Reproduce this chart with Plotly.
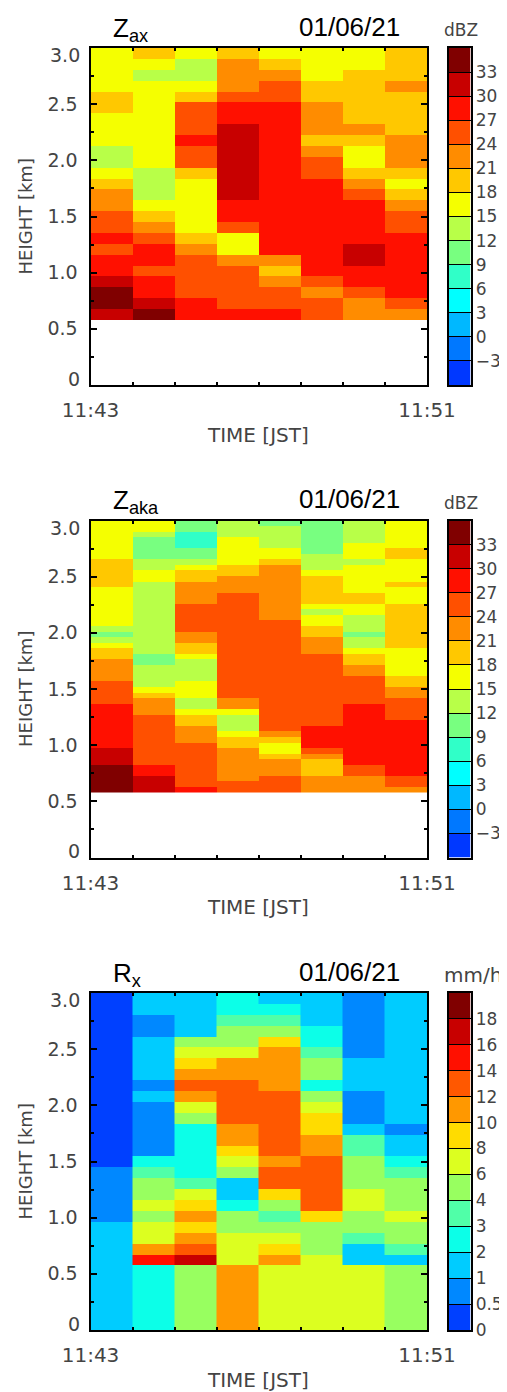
import numpy as np
import plotly.graph_objects as go

# ---------- data ----------
TIME_EDGES = [0, 1, 2, 3, 4, 5, 6, 7, 8]
DBZ_EDGES = [-6, -3, 0, 3, 6, 9, 12, 15, 18, 21, 24, 27, 30, 33, 36]
DBZ_COLORS = ["#0038ff", "#0078ff", "#00b8ff", "#00ffff", "#30ffc8", "#78ff80", "#b8ff48",
              "#f5ff00", "#ffc800", "#ff8c00", "#ff5000", "#ff1000", "#c80000", "#800000"]
RAIN_EDGES = [0, 0.5, 1, 2, 3, 4, 6, 8, 10, 12, 14, 16, 18, 20]
RAIN_COLORS = ["#0040ff", "#0088ff", "#00ccff", "#0cffe8", "#50ffa8", "#98ff60", "#dcff20",
               "#ffdc00", "#ff9800", "#ff5800", "#ff1000", "#c80000", "#800000"]
BOTTOM_KM = 0.575

# Z_ax: rows from 3.0 km downward, 8 time columns
ZAX = [
 [16,19,16,19,16,16,16,19],
 [16,16,13,22,19,16,16,19],
 [16,13,13,22,22,16,19,19],
 [16,16,16,22,25,19,19,22],
 [19,16,19,25,25,19,19,19],
 [19,16,25,28,28,22,19,19],
 [16,16,25,28,28,22,19,19],
 [16,16,25,31,28,22,22,19],
 [16,16,28,31,28,19,19,22],
 [13,16,25,31,28,22,16,22],
 [13,16,25,31,28,25,16,22],
 [16,13,19,31,28,25,19,19],
 [19,13,16,31,28,28,22,16],
 [22,13,16,31,28,28,25,19],
 [22,16,16,28,28,28,28,22],
 [25,19,16,28,28,28,28,25],
 [25,22,16,25,28,28,28,25],
 [28,25,19,16,28,28,28,28],
 [25,28,22,16,28,28,31,28],
 [28,28,25,22,22,28,31,28],
 [28,25,25,25,19,28,28,28],
 [31,28,25,25,22,25,28,28],
 [34,28,25,25,25,22,25,28],
 [34,31,28,25,25,25,22,25],
 [31,34,28,28,28,25,22,22],
]

# Z_aka: per time column, (value, number of range gates) from 3.0 km downward
ZAKA_C1 = [(16,7),(19,5),(16,7),(13,1),(10,1),(13,1),(16,1),(19,2),(22,4),(25,4),(28,8),(31,3),(34,5)]
ZAKA_C2 = [(16,2),(13,1),(10,4),(13,2),(16,2),(13,13),(10,2),(13,4),(16,1),(19,1),(22,3),(25,9),(28,2),(31,3)]
ZAKA_C3 = [(10,2),(7,3),(10,2),(13,1),(16,1),(19,2),(22,4),(25,5),(22,2),(19,2),(16,1),(13,4),(16,3),(13,2),(16,1),(19,2),(22,3),(25,8),(28,1)]
ZAKA_C4 = [(13,3),(16,5),(19,2),(22,3),(25,19),(22,2),(16,1),(13,3),(16,1),(19,2),(22,6),(25,2)]
ZAKA_C5 = [(10,1),(13,4),(16,2),(19,1),(22,10),(25,20),(22,1),(19,1),(16,2),(19,1),(22,3),(25,3)]
ZAKA_C6 = [(10,6),(13,3),(16,1),(19,5),(16,1),(13,1),(16,2),(19,2),(22,3),(25,13),(28,4),(25,1),(22,1),(19,3),(22,3)]
ZAKA_C7 = [(13,4),(16,3),(13,1),(16,5),(19,2),(16,2),(13,3),(10,1),(13,2),(16,1),(19,2),(22,2),(25,5),(28,11),(25,2),(22,3)]
ZAKA_C8 = [(16,5),(19,2),(16,4),(19,1),(16,3),(19,8),(16,5),(19,2),(22,2),(25,4),(28,10),(25,2),(22,1)]

# R_x: per time column, (mm/h, number of rows) from 3.0 km downward (last row reaches the ground)
RX_C1 = [(0.25,16),(0.75,5),(1.5,5)]
RX_C2 = [(1.5,2),(0.75,2),(1.5,4),(0.75,1),(1.5,1),(0.75,5),(2.5,1),(3.5,1),(5,2),(7,1),(5,1),(7,2),(11,1),(15,1),(2.5,1)]
RX_C3 = [(1.5,4),(5,1),(7,1),(9,1),(11,1),(13,1),(11,1),(7,1),(5,1),(2.5,5),(3.5,1),(7,1),(9,1),(11,1),(9,1),(11,1),(13,1),(17,1),(5,1)]
RX_C4 = [(2.5,2),(3.5,1),(5,2),(7,1),(11,2),(13,4),(11,2),(9,1),(7,1),(5,1),(1.5,2),(2.5,1),(5,2),(7,3),(11,1)]
RX_C5 = [(1.5,1),(2.5,1),(3.5,1),(5,1),(9,1),(11,4),(13,6),(11,1),(13,2),(9,1),(5,1),(3.5,1),(5,1),(7,1),(9,1),(11,1),(7,1)]
RX_C6 = [(1.5,3),(2.5,2),(3.5,1),(5,2),(2.5,1),(5,1),(7,1),(9,2),(11,2),(13,5),(9,1),(5,3),(7,1),(7,1)]
RX_C7 = [(0.75,6),(1.5,3),(0.75,3),(1.5,1),(3.5,2),(5,3),(7,2),(5,2),(3.5,1),(1.5,2),(7,1)]
RX_C8 = [(1.5,12),(0.75,1),(1.5,2),(2.5,1),(3.5,1),(5,3),(7,1),(5,2),(3.5,1),(1.5,1),(5,1)]

DBZ_TICKS = [-3, 0, 3, 6, 9, 12, 15, 18, 21, 24, 27, 30, 33]
DBZ_LABELS = ["\u22123", "0", "3", "6", "9", "12", "15", "18", "21", "24", "27", "30", "33"]
RAIN_LABELS = ["0", "0.5", "1", "2", "3", "4", "6", "8", "10", "12", "14", "16", "18"]
HEIGHT_TICKS = [0.5, 1, 1.5, 2, 2.5]
HEIGHT_LABELS = ["0.5", "1.0", "1.5", "2.0", "2.5"]
TITLES = ["Z<sub>ax</sub>", "Z<sub>aka</sub>", "R<sub>x</sub>"]
UNITS = ["dBZ", "dBZ", "mm/h"]
DATE = "01/06/21"


def expand(columns):
    cols = [[v for v, n in c for _ in range(n)] for c in columns]
    return np.array(cols).T


def stepped(colors, lo, hi, edges):
    scale = []
    for i, c in enumerate(colors):
        scale.append([(edges[i] - lo) / (hi - lo), c])
        scale.append([(edges[i + 1] - lo) / (hi - lo), c])
    return scale


# the page's default 8 px body margin shifts the figure, so the figure is 8 px smaller
MARGIN = 8
W, H = 507 - MARGIN, 1392 - MARGIN
PLOT_L, PLOT_R = 90.5 - MARGIN, 427.0 - MARGIN
BAR_L, BAR_R = 448.5 - MARGIN, 470.5 - MARGIN
TOPS = [48.0 - MARGIN, 520.5 - MARGIN, 993.0 - MARGIN]
PH = 337.0
FONT = "DejaVu Sans"
TICK_COLOR = "#444444"

zaka = expand([ZAKA_C1, ZAKA_C2, ZAKA_C3, ZAKA_C4, ZAKA_C5, ZAKA_C6, ZAKA_C7, ZAKA_C8])
rx = expand([RX_C1, RX_C2, RX_C3, RX_C4, RX_C5, RX_C6, RX_C7, RX_C8])
rx_level = np.searchsorted(RAIN_EDGES, rx, side="right") - 0.5

zax_arr = np.array(ZAX)
edges_1 = np.linspace(3.0, BOTTOM_KM, zax_arr.shape[0] + 1)
edges_2 = np.linspace(3.0, BOTTOM_KM, zaka.shape[0] + 1)
edges_3 = np.append(np.linspace(3.0, BOTTOM_KM, rx.shape[0]), 0.0)

DBZ_SCALE = stepped(DBZ_COLORS, -6, 36, DBZ_EDGES)
RAIN_SCALE = stepped(RAIN_COLORS, 0, 13, list(range(14)))
panels = [
    (zax_arr, edges_1, DBZ_SCALE, -6, 36, DBZ_EDGES, DBZ_TICKS, DBZ_LABELS),
    (zaka, edges_2, DBZ_SCALE, -6, 36, DBZ_EDGES, DBZ_TICKS, DBZ_LABELS),
    (rx_level, edges_3, RAIN_SCALE, 0, 13, list(range(14)), list(range(13)), RAIN_LABELS),
]

fig = go.Figure()
layout = {}
annotations = []
for i, (z, yedges, scale, zmin, zmax, bar_edges, tvals, ttext) in enumerate(panels):
    top = TOPS[i]
    bot = top + PH
    m = 2 * i + 1
    xa, ya = ("x" if m == 1 else f"x{m}"), ("y" if m == 1 else f"y{m}")
    xb, yb = f"x{m + 1}", f"y{m + 1}"
    fig.add_trace(go.Heatmap(
        x=TIME_EDGES, y=yedges[::-1], z=z[::-1], xaxis=xa, yaxis=ya, showscale=False,
        colorscale=scale, zmin=zmin, zmax=zmax, zsmooth=False, hoverinfo="skip"))
    # colour key, drawn as a one-column heatmap on its own axes
    mids = [(a + b) / 2 for a, b in zip(bar_edges[:-1], bar_edges[1:])]
    fig.add_trace(go.Heatmap(
        x=[0, 1], y=bar_edges, z=[[v] for v in mids], xaxis=xb, yaxis=yb, showscale=False,
        colorscale=scale, zmin=zmin, zmax=zmax, zsmooth=False, hoverinfo="skip"))
    axis_common = dict(showgrid=False, zeroline=False, showline=True, linecolor="black", automargin=False,
                       linewidth=2, mirror="ticks", ticks="inside", tickcolor="black", tickwidth=2)
    layout[xa.replace("x", "xaxis")] = dict(
        domain=[PLOT_L / W, PLOT_R / W], range=[0, 8], anchor=ya,
        tickmode="array", tickvals=[0, 8], ticktext=["11:43", "11:51"],
        ticklen=3, ticklabelstandoff=6,
        minor=dict(tickmode="array", tickvals=TIME_EDGES[1:-1], ticks="inside", ticklen=3,
                   tickwidth=2, tickcolor="black"),
        tickfont=dict(family=FONT, size=20, color=TICK_COLOR), **axis_common)
    layout[ya.replace("y", "yaxis")] = dict(
        domain=[1 - bot / H, 1 - top / H], range=[0, 3], anchor=xa,
        tickmode="array", tickvals=HEIGHT_TICKS, ticktext=HEIGHT_LABELS,
        ticklen=6, ticklabelstandoff=7,
        minor=dict(tickmode="array", tickvals=[0.25, 0.75, 1.25, 1.75, 2.25, 2.75],
                   ticks="inside", ticklen=3, tickwidth=2, tickcolor="black"),
        tickfont=dict(family=FONT, size=19, color=TICK_COLOR), **axis_common)
    layout[xb.replace("x", "xaxis")] = dict(
        domain=[BAR_L / W, BAR_R / W], range=[0, 1], anchor=yb, showticklabels=False, ticks="", automargin=False,
        showgrid=False, zeroline=False, showline=True, linecolor="black", linewidth=1.5, mirror=True)
    layout[yb.replace("y", "yaxis")] = dict(
        domain=[1 - bot / H, 1 - top / H], range=[zmin, zmax], anchor=xb, side="right", automargin=False,
        tickmode="array", tickvals=tvals, ticktext=ttext, ticks="inside", ticklen=22,
        tickwidth=1, tickcolor="black", ticklabelstandoff=0,
        showgrid=False, zeroline=False, showline=True, linecolor="black", linewidth=1.5, mirror=True,
        tickfont=dict(family=FONT, size=17, color=TICK_COLOR))
    cy = (top + bot) / 2
    annotations += [
        dict(text="TIME [JST]", x=258 - MARGIN, y=bot + 49.5, xanchor="center", font=dict(family=FONT, size=20, color=TICK_COLOR)),
        dict(text="HEIGHT [km]", x=25 - MARGIN, y=cy, xanchor="center", textangle=-90, font=dict(family=FONT, size=18, color=TICK_COLOR)),
        dict(text=TITLES[i], x=111 - MARGIN, y=top - 19, xanchor="left", font=dict(family="Liberation Sans", size=26, color="black")),
        dict(text=DATE, x=349 - MARGIN, y=top - 21, xanchor="center", font=dict(family="Liberation Sans", size=26, color="black")),
        dict(text=UNITS[i], x=(461 if i < 2 else 473) - MARGIN, y=top - 18, xanchor="center", font=dict(family=FONT, size=17 if i < 2 else 20, color=TICK_COLOR)),
        # end labels of the height axis sit slightly inside the axis, as in the reference
        dict(text="3.0", x=82 - MARGIN, y=top + 7, xanchor="right", font=dict(family=FONT, size=19, color=TICK_COLOR)),
        dict(text="0", x=82 - MARGIN, y=bot - 6, xanchor="right", font=dict(family=FONT, size=19, color=TICK_COLOR)),
    ]

for a in annotations:
    a.update(xref="paper", yref="paper", yanchor="middle", showarrow=False)
    a["x"] = a["x"] / W
    a["y"] = 1 - a["y"] / H

fig.update_layout(width=W, height=H, margin=dict(l=0, r=0, t=0, b=0), autosize=False,
                  paper_bgcolor="white", plot_bgcolor="white", annotations=annotations, **layout)
fig.write_html("out.html")
